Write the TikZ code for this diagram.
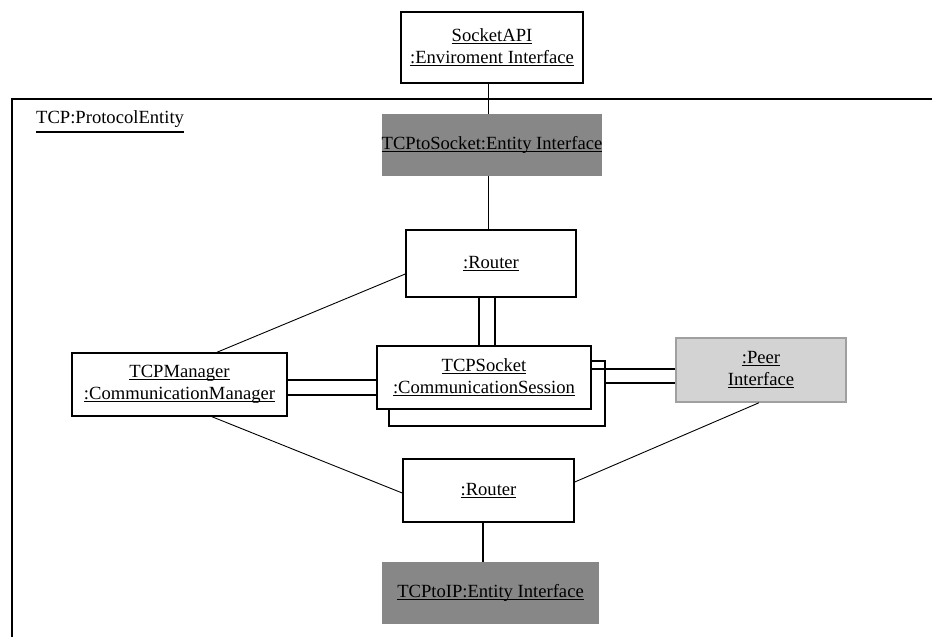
\documentclass[tikz,border=0pt]{standalone}
\usepackage{fontspec}
\setmainfont{Liberation Serif}
\usetikzlibrary{calc}
% underline at a fixed depth below the baseline
\newcommand{\ulx}[1]{\leavevmode\setbox0\hbox{#1}\rlap{\rule[-2.6pt]{\wd0}{0.9pt}}\box0}
% heavier, lower underline for the frame title
\newcommand{\ulframe}[1]{\leavevmode\setbox0\hbox{#1}\rlap{\rule[-10pt]{\wd0}{2pt}}\box0}
\definecolor{entitygray}{HTML}{878787}
\definecolor{peerfill}{HTML}{D3D3D3}
\definecolor{peerline}{HTML}{A0A0A0}
\begin{document}
\begin{tikzpicture}[x=1pt,y=-1pt,
  every node/.style={font=\fontsize{18.6}{22}\selectfont, align=center, inner sep=0pt},
  objbox/.style={draw, line width=1.5pt, fill=white},
  entitybox/.style={fill=entitygray},
  peerbox/.style={draw=peerline, line width=1.5pt, fill=peerfill},
  link/.style={line width=0.9pt},
  duallink/.style={line width=1.5pt},
  heavylink/.style={line width=2pt}]
\useasboundingbox (0,0) rectangle (932,637);

% enclosing protocol entity frame (open to the right and bottom)
\draw[line width=2pt] (12,637) -- (12,99) -- (932,99);
\node[anchor=base west] (ent) at (36,123) {\ulframe{TCP:ProtocolEntity}};

% objects
\node[objbox, minimum width=182, minimum height=71] (sock) at (492,47.5)
  {\ulx{SocketAPI}\\\ulx{:Enviroment Interface}};
\node[entitybox, minimum width=216, minimum height=62] (tcps) at (492,145)
  {\ulx{TCPtoSocket:Entity Interface}};
\node[objbox, minimum width=170, minimum height=67] (r1) at (491,263.5)
  {\ulx{:Router}};
\node[objbox, minimum width=215, minimum height=63] (mgr) at (179.5,384.5)
  {\ulx{TCPManager}\\\ulx{:CommunicationManager}};
\node[objbox, minimum width=216, minimum height=65] (sessb) at (497,393.5) {};
\node[objbox, minimum width=214, minimum height=63] (sessf) at (484,377.5)
  {\ulx{TCPSocket}\\\ulx{:CommunicationSession}};
\node[peerbox, minimum width=170, minimum height=64] (peer) at (761,370)
  {\ulx{:Peer}\\\ulx{Interface}};
\node[objbox, minimum width=171, minimum height=63] (r2) at (488.5,490.5)
  {\ulx{:Router}};
\node[entitybox, minimum width=217, minimum height=62] (ip) at (490.5,593)
  {\ulx{TCPtoIP:Entity Interface}};

% connectors
\draw[link] ([xshift=-4pt]sock.south) -- ([xshift=-4pt]sock.south |- tcps.north);
\draw[link] ([xshift=-4pt]tcps.south) -- ([xshift=-4pt]tcps.south |- r1.north);

\draw[duallink] ([xshift=-12pt]r1.south) -- ([xshift=-12pt]r1.south |- sessf.north);
\draw[duallink] ([xshift=4pt]r1.south) -- ([xshift=4pt]r1.south |- sessf.north);

\draw[duallink] ([yshift=4.5pt]mgr.east) -- ([yshift=4.5pt]mgr.east -| sessf.west);
\draw[duallink] ([yshift=-10.5pt]mgr.east) -- ([yshift=-10.5pt]mgr.east -| sessf.west);

\draw[duallink] ([yshift=1pt]peer.west) -- ([yshift=1pt]peer.west -| sessf.east);
\draw[duallink] ([yshift=-13pt]peer.west) -- ([yshift=-13pt]peer.west -| sessb.east);

\draw[link] ([xshift=37.5pt]mgr.north) -- ([yshift=-10.5pt]r1.west);
\draw[link] ([xshift=32.5pt]mgr.south) -- ([yshift=-2.5pt]r2.west);
\draw[link] ([xshift=-2pt]peer.south) -- ([yshift=8.5pt]r2.east);

\draw[heavylink] ([xshift=-5.5pt]r2.south) -- ([xshift=-5.5pt]r2.south |- ip.north);
\end{tikzpicture}
\end{document}
